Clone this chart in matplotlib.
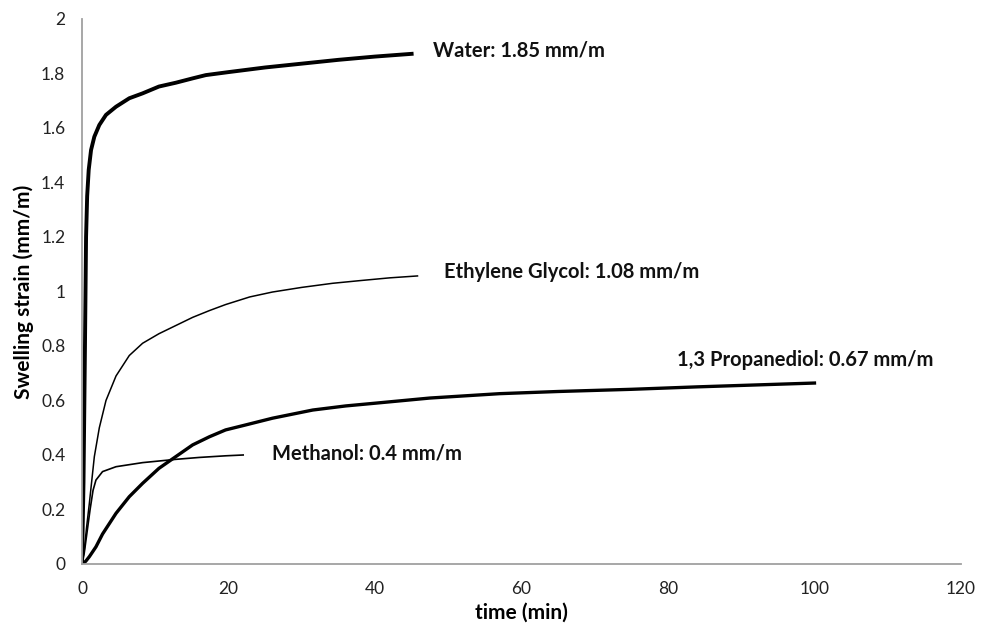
import matplotlib
matplotlib.use("Agg")
import matplotlib.pyplot as plt

# ---- data ----
water_t = [0, 0.2, 0.4, 0.55, 0.7, 0.91, 1.23, 1.68, 2.36, 3.27, 4.64, 6.45, 8.27,
           10.5, 12.8, 15.1, 16.9, 20, 25, 30, 35, 40, 45]
water_y = [0, 0.3, 0.8, 1.2, 1.35, 1.446, 1.519, 1.568, 1.611, 1.648, 1.678, 1.709, 1.727,
           1.752, 1.766, 1.782, 1.794, 1.805, 1.822, 1.836, 1.85, 1.862, 1.872]

eg_t = [0, 0.3, 0.6, 1.0, 1.68, 2.36, 3.27, 4.64, 6.45, 8.27, 10.5, 12.8, 15.1,
        17.4, 19.6, 22.9, 26, 30, 34.2, 38, 42, 45.8]
eg_y = [0, 0.05, 0.13, 0.223, 0.394, 0.5, 0.6, 0.69, 0.765, 0.81, 0.845, 0.875, 0.905,
        0.93, 0.952, 0.98, 0.998, 1.015, 1.03, 1.04, 1.05, 1.057]

meoh_t = [0, 0.3, 0.6, 1.1, 1.5, 1.9, 2.8, 4.64, 8.27, 12.8, 16, 19.6, 22]
meoh_y = [0, 0.04, 0.1, 0.2, 0.27, 0.308, 0.339, 0.357, 0.372, 0.384, 0.391, 0.397, 0.4]

pd_t = [0, 0.5, 1.0, 1.9, 2.8, 4.64, 6.45, 8.27, 10.5, 12.8, 15.1, 17.4, 19.6, 22,
        26, 31.5, 36, 40, 47.5, 57, 65, 75, 84, 92, 100]
pd_y = [0, 0.01, 0.027, 0.063, 0.11, 0.186, 0.247, 0.296, 0.351, 0.394, 0.437, 0.467, 0.492, 0.508,
        0.535, 0.565, 0.58, 0.59, 0.609, 0.625, 0.633, 0.641, 0.65, 0.657, 0.664]

labels = ["Water: 1.85 mm/m", "Ethylene Glycol: 1.08 mm/m",
          "1,3 Propanediol: 0.67 mm/m", "Methanol: 0.4 mm/m"]
label_pos = [(47.9, 1.886), (49.4, 1.072), (81.2, 0.749), (25.9, 0.407)]

xticks = [0, 20, 40, 60, 80, 100, 120]
yticks = [0, 0.2, 0.4, 0.6, 0.8, 1, 1.2, 1.4, 1.6, 1.8, 2]
ytick_labels = ["0", "0.2", "0.4", "0.6", "0.8", "1", "1.2", "1.4", "1.6", "1.8", "2"]

plt.rcParams['font.family'] = ['Lato', 'DejaVu Sans']

fig = plt.figure(figsize=(9.86, 6.32), dpi=100)
ax = fig.add_axes([0.0832, 0.1076, 0.8914, 0.8624])

ax.plot(water_t, water_y, color='black', lw=2.8, solid_joinstyle='round')
ax.plot(eg_t, eg_y, color='black', lw=1.1, solid_joinstyle='round')
ax.plot(meoh_t, meoh_y, color='black', lw=1.2, solid_joinstyle='round')
ax.plot(pd_t, pd_y, color='black', lw=2.4, solid_joinstyle='round')

for txt, (x, y) in zip(labels, label_pos):
    ax.text(x, y, txt, fontsize=14.5, fontweight='bold', ha='left', va='center',
            color='#111111')

ax.set_xlim(0, 120)
ax.set_ylim(0, 2)
ax.set_xticks(xticks)
ax.set_yticks(yticks)
ax.set_yticklabels(ytick_labels)
ax.tick_params(length=0, labelsize=12.5, colors='#222222')
ax.tick_params(axis='y', pad=12)
ax.tick_params(axis='x', pad=12)

for s in ['top', 'right']:
    ax.spines[s].set_visible(False)
for s in ['left', 'bottom']:
    ax.spines[s].set_color('#a0a0a0')
    ax.spines[s].set_linewidth(1.3)

ax.set_xlabel('time (min)', fontsize=15, fontweight='bold', labelpad=4)
ax.set_ylabel('Swelling strain (mm/m)', fontsize=15, fontweight='bold', labelpad=5)

fig.savefig('out.png', dpi=100, facecolor='white')
